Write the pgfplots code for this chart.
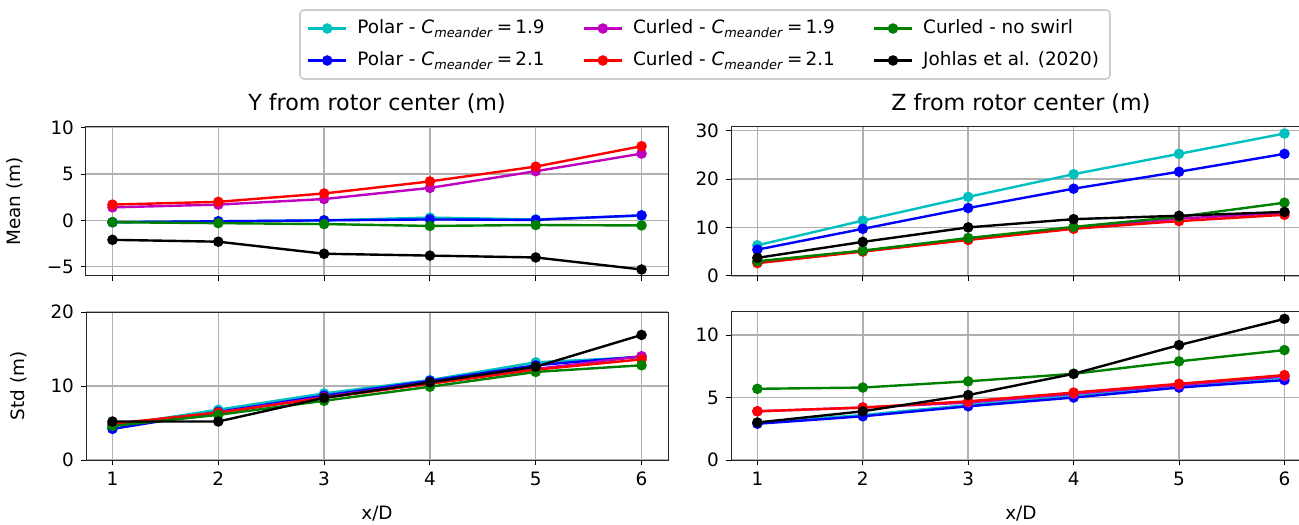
\documentclass[border=0pt]{standalone}
\usepackage{pgfplots}
\pgfplotsset{compat=1.18}
\usepackage{fontspec}
\setmainfont{DejaVu Sans}
\definecolor{cPA}{rgb}{0,0.75,0.75}
\definecolor{cPB}{rgb}{0,0,1}
\definecolor{cCA}{rgb}{0.75,0,0.75}
\definecolor{cCB}{rgb}{1,0,0}
\definecolor{cNS}{rgb}{0,0.5,0}
\definecolor{cJ}{rgb}{0,0,0}
\newcommand{\tickfont}{\fontsize{9.2pt}{11pt}\selectfont}
\newcommand{\titlefont}{\fontsize{11.1pt}{13pt}\selectfont}
\pgfplotsset{
  myaxis/.style={
    scale only axis,
    anchor=south west,
    xmin=0.75, xmax=6.25,
    xtick={1,2,3,4,5,6},
    tick align=outside, tick pos=left,
    major tick length=2.5pt,
    every tick/.style={black, line width=0.5pt},
    axis line style={black!85, line width=0.5pt},
    grid=major,
    major grid style={color=black!31, line width=0.75pt},
    font=\tickfont,
    tick label style={font=\tickfont},
    label style={font=\tickfont},
    ylabel style={xshift=0pt, yshift=5pt},
    xlabel style={yshift=-3pt},
    /pgf/number format/assume math mode=true,
    title style={font=\titlefont, yshift=-2.5pt},
    legend image code/.code={\draw[mark repeat=2,mark phase=2] plot coordinates {(0pt,0pt)(9.5pt,0pt)(19pt,0pt)};},
  },
  s/.style={line width=1.2pt, mark=*, mark size=2pt, mark options={solid}},
}
\begin{document}
\begin{tikzpicture}
\useasboundingbox (0,0) rectangle (649.5pt,262pt);
% top-left
\begin{axis}[myaxis, at={(43pt,124pt)}, width=291pt, height=74.5pt,
  ymin=-6.0, ymax=10.07, ytick={-5,0,5,10}, yticklabels={−5,0,5,10},
  xticklabels={},
  ylabel={Mean (m)},
  title={Y from rotor center (m)},
  legend columns=3,
  legend style={at={(1.0636,1.5537)}, anchor=center, draw=black!20, rounded corners=2pt,
    fill=white, font=\tickfont, line width=0.8pt, inner xsep=3.5pt, inner ysep=3pt,
    /tikz/every even column/.append style={column sep=17pt},
    /tikz/every odd column/.append style={column sep=3pt},
    row sep=3.5pt},
  legend cell align=left]
\addlegendimage{s, cPA}\addlegendentry{Polar - \textit{C}\textsubscript{\textit{meander}}\,=\,1.9}
\addlegendimage{s, cCA}\addlegendentry{Curled - \textit{C}\textsubscript{\textit{meander}}\,=\,1.9}
\addlegendimage{s, cNS}\addlegendentry{Curled - no swirl}
\addlegendimage{s, cPB}\addlegendentry{Polar - \textit{C}\textsubscript{\textit{meander}}\,=\,2.1}
\addlegendimage{s, cCB}\addlegendentry{Curled - \textit{C}\textsubscript{\textit{meander}}\,=\,2.1}
\addlegendimage{s, cJ}\addlegendentry{Johlas et al. (2020)}
\addplot[s, cPA] coordinates {(1,-0.2)(2,-0.1)(3,0.0)(4,0.3)(5,0.1)(6,0.5)};
\addplot[s, cPB] coordinates {(1,-0.2)(2,-0.1)(3,0.0)(4,0.1)(5,0.05)(6,0.55)};
\addplot[s, cCA] coordinates {(1,1.4)(2,1.7)(3,2.3)(4,3.5)(5,5.3)(6,7.2)};
\addplot[s, cCB] coordinates {(1,1.7)(2,2.0)(3,2.9)(4,4.2)(5,5.8)(6,8.0)};
\addplot[s, cNS] coordinates {(1,-0.2)(2,-0.3)(3,-0.4)(4,-0.6)(5,-0.5)(6,-0.55)};
\addplot[s, cJ] coordinates {(1,-2.1)(2,-2.3)(3,-3.6)(4,-3.8)(5,-4.0)(6,-5.3)};
\end{axis}
% top-right
\begin{axis}[myaxis, at={(365.5pt,124pt)}, width=289.9pt, height=74.5pt,
  ymin=-0.05, ymax=30.75, ytick={0,10,20,30},
  xticklabels={},
  title={Z from rotor center (m)}]
\addplot[s, cPA] coordinates {(1,6.3)(2,11.4)(3,16.3)(4,21.0)(5,25.2)(6,29.4)};
\addplot[s, cPB] coordinates {(1,5.4)(2,9.7)(3,14.0)(4,18.0)(5,21.5)(6,25.2)};
\addplot[s, cCA] coordinates {(1,2.8)(2,5.1)(3,7.5)(4,9.9)(5,11.8)(6,13.0)};
\addplot[s, cCB] coordinates {(1,2.6)(2,5.0)(3,7.4)(4,9.7)(5,11.3)(6,12.6)};
\addplot[s, cNS] coordinates {(1,3.0)(2,5.2)(3,7.8)(4,10.1)(5,12.2)(6,15.1)};
\addplot[s, cJ] coordinates {(1,3.7)(2,7.0)(3,10.0)(4,11.7)(5,12.4)(6,13.2)};
\end{axis}
% bottom-left
\begin{axis}[myaxis, at={(43pt,32pt)}, width=291pt, height=74pt,
  ymin=0, ymax=20, ytick={0,10,20},
  xlabel={x/D}, ylabel={Std (m)}]
\addplot[s, cPA] coordinates {(1,4.6)(2,6.8)(3,9.0)(4,10.8)(5,13.2)(6,13.9)};
\addplot[s, cPB] coordinates {(1,4.2)(2,6.5)(3,8.7)(4,10.7)(5,12.8)(6,14.0)};
\addplot[s, cCA] coordinates {(1,4.8)(2,6.4)(3,8.5)(4,10.5)(5,12.3)(6,14.0)};
\addplot[s, cCB] coordinates {(1,4.9)(2,6.4)(3,8.4)(4,10.3)(5,12.2)(6,13.6)};
\addplot[s, cNS] coordinates {(1,4.6)(2,6.1)(3,8.0)(4,9.9)(5,11.9)(6,12.8)};
\addplot[s, cJ] coordinates {(1,5.2)(2,5.2)(3,8.4)(4,10.5)(5,12.6)(6,16.9)};
\end{axis}
% bottom-right
\begin{axis}[myaxis, at={(365.5pt,32pt)}, width=289.9pt, height=74pt,
  ymin=0, ymax=11.85, ytick={0,5,10},
  xlabel={x/D}]
\addplot[s, cPA] coordinates {(1,3.0)(2,3.6)(3,4.4)(4,5.2)(5,5.9)(6,6.6)};
\addplot[s, cPB] coordinates {(1,2.9)(2,3.5)(3,4.3)(4,5.0)(5,5.8)(6,6.4)};
\addplot[s, cCA] coordinates {(1,3.9)(2,4.2)(3,4.6)(4,5.3)(5,6.0)(6,6.7)};
\addplot[s, cCB] coordinates {(1,3.9)(2,4.2)(3,4.7)(4,5.4)(5,6.1)(6,6.8)};
\addplot[s, cNS] coordinates {(1,5.7)(2,5.8)(3,6.3)(4,6.9)(5,7.9)(6,8.8)};
\addplot[s, cJ] coordinates {(1,3.0)(2,3.9)(3,5.2)(4,6.9)(5,9.2)(6,11.3)};
\end{axis}
\end{tikzpicture}
\end{document}
